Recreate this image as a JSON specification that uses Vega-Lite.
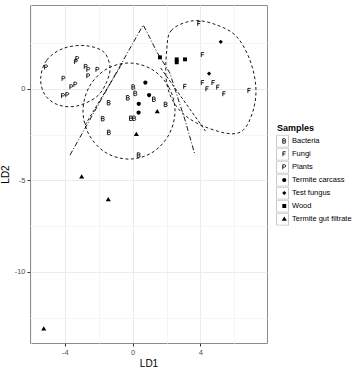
{
  "$schema": "https://vega.github.io/schema/vega-lite/v6.json",
  "width": 237,
  "height": 338,
  "autosize": {"type": "none"},
  "padding": {"left": 30, "top": 5, "right": 88, "bottom": 27},
  "background": "white",
  "config": {
    "font": "Liberation Sans",
    "view": {"stroke": "#8c8c8c", "strokeWidth": 1},
    "axis": {
      "domain": false,
      "tickColor": "#333333",
      "tickSize": 3,
      "labelFontSize": 7.5,
      "labelColor": "#4d4d4d",
      "labelFont": "Liberation Sans",
      "titleFont": "Liberation Sans",
      "titleFontSize": 10,
      "titleFontWeight": "normal",
      "titleColor": "#000000",
      "labelPadding": 2
    }
  },
  "datasets": {
    "pts": [
      {"x": -5.11, "y": 1.19, "Samples": "Plants"},
      {"x": -3.27, "y": 1.65, "Samples": "Plants"},
      {"x": -3.35, "y": 1.49, "Samples": "Plants"},
      {"x": -2.77, "y": 1.22, "Samples": "Plants"},
      {"x": -2.62, "y": 1.06, "Samples": "Plants"},
      {"x": -2.08, "y": 1.06, "Samples": "Plants"},
      {"x": -2.62, "y": 0.71, "Samples": "Plants"},
      {"x": -4.08, "y": 0.57, "Samples": "Plants"},
      {"x": -3.62, "y": 0.11, "Samples": "Plants"},
      {"x": -3.38, "y": 0.25, "Samples": "Plants"},
      {"x": -4.11, "y": -0.37, "Samples": "Plants"},
      {"x": -3.86, "y": -0.32, "Samples": "Plants"},
      {"x": 0.04, "y": 0.11, "Samples": "Bacteria"},
      {"x": 0.16, "y": -0.24, "Samples": "Bacteria"},
      {"x": -0.28, "y": -0.48, "Samples": "Bacteria"},
      {"x": -1.41, "y": -0.75, "Samples": "Bacteria"},
      {"x": 1.26, "y": -0.56, "Samples": "Bacteria"},
      {"x": 1.95, "y": -0.84, "Samples": "Bacteria"},
      {"x": -1.76, "y": -1.62, "Samples": "Bacteria"},
      {"x": -0.10, "y": -1.60, "Samples": "Bacteria"},
      {"x": 0.09, "y": -1.60, "Samples": "Bacteria"},
      {"x": -1.40, "y": -2.37, "Samples": "Bacteria"},
      {"x": 0.36, "y": -3.61, "Samples": "Bacteria"},
      {"x": 3.92, "y": 3.57, "Samples": "Fungi"},
      {"x": 4.13, "y": 1.87, "Samples": "Fungi"},
      {"x": 3.09, "y": 0.13, "Samples": "Fungi"},
      {"x": 4.13, "y": 0.34, "Samples": "Fungi"},
      {"x": 4.40, "y": 0.0, "Samples": "Fungi"},
      {"x": 4.76, "y": 0.34, "Samples": "Fungi"},
      {"x": 5.04, "y": 0.09, "Samples": "Fungi"},
      {"x": 5.40, "y": -0.27, "Samples": "Fungi"},
      {"x": 6.88, "y": -0.09, "Samples": "Fungi"},
      {"x": 0.75, "y": 0.35, "Samples": "Termite carcass"},
      {"x": 0.97, "y": -0.33, "Samples": "Termite carcass"},
      {"x": 0.36, "y": -0.81, "Samples": "Termite carcass"},
      {"x": 0.35, "y": -1.29, "Samples": "Termite carcass"},
      {"x": 5.20, "y": 2.58, "Samples": "Test fungus"},
      {"x": 4.51, "y": 0.84, "Samples": "Test fungus"},
      {"x": 1.61, "y": 1.73, "Samples": "Wood"},
      {"x": 2.60, "y": 1.62, "Samples": "Wood"},
      {"x": 2.60, "y": 1.46, "Samples": "Wood"},
      {"x": 3.09, "y": 1.62, "Samples": "Wood"},
      {"x": 1.45, "y": -1.23, "Samples": "Termite gut filtrate"},
      {"x": 0.22, "y": -2.47, "Samples": "Termite gut filtrate"},
      {"x": -3.01, "y": -4.79, "Samples": "Termite gut filtrate"},
      {"x": -1.44, "y": -6.03, "Samples": "Termite gut filtrate"},
      {"x": -5.25, "y": -13.10, "Samples": "Termite gut filtrate"}
    ],
    "ell": [
      {"g": "Plants", "i": 0, "x": -5.43, "y": 0.58},
      {"g": "Plants", "i": 1, "x": -5.07, "y": 1.58},
      {"g": "Plants", "i": 2, "x": -4.09, "y": 2.22},
      {"g": "Plants", "i": 3, "x": -2.81, "y": 2.37},
      {"g": "Plants", "i": 4, "x": -1.73, "y": 2.04},
      {"g": "Plants", "i": 5, "x": -1.34, "y": 1.22},
      {"g": "Plants", "i": 6, "x": -1.53, "y": 0.40},
      {"g": "Plants", "i": 7, "x": -2.12, "y": -0.42},
      {"g": "Plants", "i": 8, "x": -3.30, "y": -0.93},
      {"g": "Plants", "i": 9, "x": -4.39, "y": -0.87},
      {"g": "Plants", "i": 10, "x": -5.17, "y": -0.33},
      {"g": "Bacteria", "i": 0, "x": 2.50, "y": -1.20},
      {"g": "Bacteria", "i": 1, "x": 2.13, "y": 0.11},
      {"g": "Bacteria", "i": 2, "x": 1.14, "y": 1.07},
      {"g": "Bacteria", "i": 3, "x": -0.22, "y": 1.42},
      {"g": "Bacteria", "i": 4, "x": -1.58, "y": 1.07},
      {"g": "Bacteria", "i": 5, "x": -2.57, "y": 0.11},
      {"g": "Bacteria", "i": 6, "x": -2.93, "y": -1.20},
      {"g": "Bacteria", "i": 7, "x": -2.57, "y": -2.51},
      {"g": "Bacteria", "i": 8, "x": -1.58, "y": -3.48},
      {"g": "Bacteria", "i": 9, "x": -0.22, "y": -3.83},
      {"g": "Bacteria", "i": 10, "x": 1.14, "y": -3.48},
      {"g": "Bacteria", "i": 11, "x": 2.13, "y": -2.51},
      {"g": "Fungi", "i": 0, "x": 3.58, "y": 3.73},
      {"g": "Fungi", "i": 1, "x": 2.30, "y": 3.22},
      {"g": "Fungi", "i": 2, "x": 2.01, "y": 2.13},
      {"g": "Fungi", "i": 3, "x": 2.01, "y": 0.33},
      {"g": "Fungi", "i": 4, "x": 2.60, "y": -0.97},
      {"g": "Fungi", "i": 5, "x": 3.78, "y": -1.86},
      {"g": "Fungi", "i": 6, "x": 5.55, "y": -2.42},
      {"g": "Fungi", "i": 7, "x": 6.53, "y": -2.24},
      {"g": "Fungi", "i": 8, "x": 7.12, "y": -1.15},
      {"g": "Fungi", "i": 9, "x": 7.27, "y": 0.13},
      {"g": "Fungi", "i": 10, "x": 6.92, "y": 1.58},
      {"g": "Fungi", "i": 11, "x": 6.14, "y": 2.86},
      {"g": "Fungi", "i": 12, "x": 4.96, "y": 3.50}
    ],
    "dashdot": [
      {"g": "A", "i": 0, "x": -3.70, "y": -3.61},
      {"g": "A", "i": 1, "x": 0.62, "y": 3.50},
      {"g": "A", "i": 2, "x": 1.02, "y": 2.79},
      {"g": "A", "i": 3, "x": 1.43, "y": 2.02},
      {"g": "A", "i": 4, "x": 2.20, "y": 0.87},
      {"g": "A", "i": 5, "x": 2.61, "y": -0.33},
      {"g": "A", "i": 6, "x": 3.09, "y": -1.69},
      {"g": "A", "i": 7, "x": 3.68, "y": -3.61}
    ],
    "dashed": [
      {"g": "D1", "i": 0, "x": -2.81, "y": -1.97},
      {"g": "D1", "i": 1, "x": -0.63, "y": 1.37},
      {"g": "D2", "i": 0, "x": 1.65, "y": 1.15},
      {"g": "D2", "i": 1, "x": 4.30, "y": -2.30}
    ]
  },
  "encoding": {
    "x": {
      "field": "x",
      "type": "quantitative",
      "scale": {"domain": [-6.06, 7.93], "nice": false, "zero": false},
      "axis": {
        "title": "LD1",
        "values": [-6, -4, -2, 0, 2, 4, 6],
        "labelExpr": "datum.value % 4 == 0 ? toString(datum.value) : ''",
        "tickOpacity": {"condition": {"test": "datum.value % 4 == 0", "value": 1}, "value": 0},
        "gridColor": {"condition": {"test": "datum.value % 4 == 0", "value": "#ebebeb"}, "value": "#f5f5f5"},
        "labelFlush": false,
        "titlePadding": 3
      }
    },
    "y": {
      "field": "y",
      "type": "quantitative",
      "scale": {"domain": [-13.88, 4.59], "nice": false, "zero": false},
      "axis": {
        "title": "LD2",
        "values": [-12.5, -10, -7.5, -5, -2.5, 0, 2.5],
        "labelExpr": "datum.value % 5 == 0 ? toString(datum.value) : ''",
        "tickOpacity": {"condition": {"test": "datum.value % 5 == 0", "value": 1}, "value": 0},
        "gridColor": {"condition": {"test": "datum.value % 5 == 0", "value": "#ebebeb"}, "value": "#f5f5f5"},
        "labelFlush": false,
        "titlePadding": 4
      }
    }
  },
  "layer": [
    {
      "data": {"name": "ell"},
      "mark": {"type": "line", "interpolate": "cardinal-closed", "color": "black", "strokeWidth": 0.9, "strokeDash": [3, 2.5]},
      "encoding": {"detail": {"field": "g"}, "order": {"field": "i", "type": "quantitative"}}
    },
    {
      "data": {"name": "dashdot"},
      "mark": {"type": "line", "color": "black", "strokeWidth": 0.9, "strokeDash": [5, 2, 1, 2]},
      "encoding": {"detail": {"field": "g"}, "order": {"field": "i", "type": "quantitative"}}
    },
    {
      "data": {"name": "dashed"},
      "mark": {"type": "line", "color": "black", "strokeWidth": 0.9, "strokeDash": [3, 2]},
      "encoding": {"detail": {"field": "g"}, "order": {"field": "i", "type": "quantitative"}}
    },
    {
      "data": {"name": "pts"},
      "mark": {"type": "point", "strokeWidth": 0.85, "size": 36, "opacity": 1},
      "encoding": {
        "shape": {
          "field": "Samples", "type": "nominal",
          "scale": {
            "domain": ["Bacteria", "Fungi", "Plants", "Termite carcass", "Test fungus", "Wood", "Termite gut filtrate"],
            "range": [
              "M-0.5,0.75L-0.5,-0.75L0.1,-0.75C0.55,-0.75 0.55,-0.03 0.1,-0.03L-0.5,-0.03M0.1,-0.03C0.65,-0.03 0.65,0.75 0.1,0.75L-0.5,0.75",
              "M-0.45,0.75L-0.45,-0.75L0.5,-0.75M-0.45,-0.02L0.35,-0.02",
              "M-0.5,0.75L-0.5,-0.75L0.1,-0.75C0.6,-0.75 0.6,0.05 0.1,0.05L-0.5,0.05",
              "M-0.7,0A0.7,0.7 0 1,0 0.7,0A0.7,0.7 0 1,0 -0.7,0Z",
              "M0,-0.7L0.7,0L0,0.7L-0.7,0Z",
              "M-0.65,-0.65L0.65,-0.65L0.65,0.65L-0.65,0.65Z",
              "M0,-0.8L0.85,0.6L-0.85,0.6Z"
            ]
          },
          "legend": {"title": "Samples", "orient": "none", "legendX": 247, "legendY": 118.5, "symbolSize": 36, "symbolOffset": 3.5, "symbolStrokeWidth": 0.85, "symbolOpacity": 1, "labelFontSize": 7.5, "labelColor": "black", "labelFont": "Liberation Sans", "titleFont": "Liberation Sans", "titleFontSize": 9, "titleFontWeight": "bold", "titleColor": "black", "titlePadding": 2, "rowPadding": 0, "clipHeight": 13, "labelOffset": 4}
        },
        "fill": {
          "field": "Samples", "type": "nominal",
          "scale": {
            "domain": ["Bacteria", "Fungi", "Plants", "Termite carcass", "Test fungus", "Wood", "Termite gut filtrate"],
            "range": ["transparent", "transparent", "transparent", "black", "black", "black", "black"]
          },
          "legend": {"title": "Samples", "orient": "none", "legendX": 247, "legendY": 118.5, "symbolSize": 36, "symbolOffset": 3.5, "symbolStrokeWidth": 0.85, "symbolOpacity": 1, "labelFontSize": 7.5, "labelColor": "black", "labelFont": "Liberation Sans", "titleFont": "Liberation Sans", "titleFontSize": 9, "titleFontWeight": "bold", "titleColor": "black", "titlePadding": 2, "rowPadding": 0, "clipHeight": 13, "labelOffset": 4}
        },
        "stroke": {
          "field": "Samples", "type": "nominal",
          "scale": {
            "domain": ["Bacteria", "Fungi", "Plants", "Termite carcass", "Test fungus", "Wood", "Termite gut filtrate"],
            "range": ["black", "black", "black", "transparent", "transparent", "transparent", "transparent"]
          },
          "legend": {"title": "Samples", "orient": "none", "legendX": 247, "legendY": 118.5, "symbolSize": 36, "symbolOffset": 3.5, "symbolStrokeWidth": 0.85, "symbolOpacity": 1, "labelFontSize": 7.5, "labelColor": "black", "labelFont": "Liberation Sans", "titleFont": "Liberation Sans", "titleFontSize": 9, "titleFontWeight": "bold", "titleColor": "black", "titlePadding": 2, "rowPadding": 0, "clipHeight": 13, "labelOffset": 4}
        },
        "opacity": {
          "field": "Samples", "type": "nominal",
          "scale": {"range": [1, 1]},
          "legend": {"title": null, "orient": "none", "legendX": 246, "legendY": 129.7, "symbolType": "square", "symbolSize": 144, "symbolFillColor": "transparent", "symbolStrokeColor": "#c8c8c8", "symbolStrokeWidth": 1, "labelExpr": "''", "labelFontSize": 7.5, "rowPadding": 0, "clipHeight": 13}
        }
      }
    }
  ]
}
